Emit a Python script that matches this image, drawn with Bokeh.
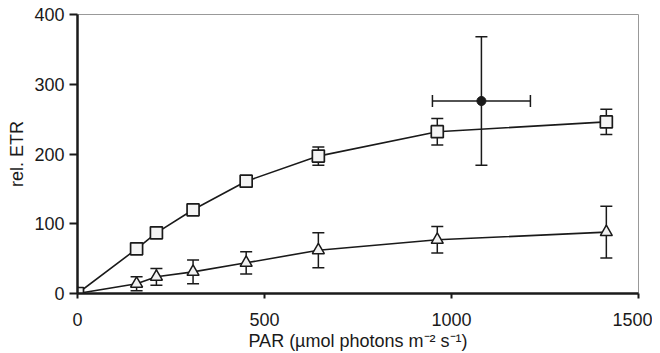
from bokeh.plotting import figure
from bokeh.models import ColumnDataSource, Whisker, TeeHead, Range1d, FixedTicker
from bokeh.embed import file_html
from bokeh.resources import INLINE

# Squares series
sq_x = [0, 158, 211, 309, 451, 644, 962, 1414]
sq_y = [0, 64, 87, 120, 161, 197, 232, 246]
sq_err = [0, 4, 4, 5, 5, 13, 19, 18]

# Triangles series
tr_x = [0, 158, 211, 309, 451, 644, 962, 1414]
tr_y = [0, 14, 24, 31, 44, 62, 77, 88]
tr_err = [0, 10, 12, 17, 16, 25, 19, 37]

# Filled circle point
ci_x = [1080]
ci_y = [276]
ci_xerr = [131]
ci_yerr = [92]

x_ticks = [0, 500, 1000, 1500]
y_ticks = [0, 100, 200, 300, 400]

FONT = "Liberation Sans"
INK = "#1a1a1a"

p = figure(width=652, height=353, output_backend="svg", toolbar_location=None,
           x_range=Range1d(0, 1500), y_range=Range1d(0, 400),
           min_border_left=77, min_border_top=14, min_border_right=14, min_border_bottom=59)
p.background_fill_color = "white"
p.border_fill_color = "white"
p.grid.visible = False
p.outline_line_color = "#999999"
p.outline_line_width = 1

for ax in (p.xaxis[0], p.yaxis[0]):
    ax.axis_line_color = INK
    ax.axis_line_width = 2.5
    ax.major_tick_line_color = INK
    ax.major_tick_line_width = 2
    ax.major_tick_in = 0
    ax.minor_tick_line_color = None
    ax.major_label_text_font = FONT
    ax.major_label_text_font_size = "18px"
    ax.major_label_text_color = INK
    ax.axis_label_text_font = FONT
    ax.axis_label_text_font_size = "18px"
    ax.axis_label_text_font_style = "normal"
    ax.axis_label_text_color = INK

p.xaxis.major_tick_out = 5
p.yaxis.major_tick_out = 8
p.xaxis.ticker = FixedTicker(ticks=x_ticks)
p.yaxis.ticker = FixedTicker(ticks=y_ticks)
p.xaxis.major_label_standoff = 14
p.yaxis.major_label_standoff = 5
p.xaxis.axis_label = "PAR (\u00b5mol photons m\u207b\u00b2 s\u207b\u00b9)"
p.yaxis.axis_label = "rel. ETR"
p.xaxis.axis_label_standoff = 2
p.yaxis.axis_label_standoff = 4

sq = ColumnDataSource(dict(x=sq_x, y=sq_y,
                           lo=[a - b for a, b in zip(sq_y, sq_err)],
                           hi=[a + b for a, b in zip(sq_y, sq_err)]))
tr = ColumnDataSource(dict(x=tr_x, y=tr_y,
                           lo=[a - b for a, b in zip(tr_y, tr_err)],
                           hi=[a + b for a, b in zip(tr_y, tr_err)]))
ci = ColumnDataSource(dict(x=ci_x, y=ci_y,
                           ylo=[a - b for a, b in zip(ci_y, ci_yerr)],
                           yhi=[a + b for a, b in zip(ci_y, ci_yerr)],
                           xlo=[a - b for a, b in zip(ci_x, ci_xerr)],
                           xhi=[a + b for a, b in zip(ci_x, ci_xerr)]))

p.line("x", "y", source=sq, line_color=INK, line_width=1.6)
p.line("x", "y", source=tr, line_color=INK, line_width=1.6)

def whisk(src, base, lo, hi, dim):
    w = Whisker(source=src, base=base, lower=lo, upper=hi, dimension=dim,
                line_color=INK, line_width=1.5,
                lower_head=TeeHead(size=12, line_color=INK, line_width=1.5),
                upper_head=TeeHead(size=12, line_color=INK, line_width=1.5))
    p.add_layout(w)

whisk(tr, "x", "lo", "hi", "height")
whisk(sq, "x", "lo", "hi", "height")
whisk(ci, "x", "ylo", "yhi", "height")
whisk(ci, "y", "xlo", "xhi", "width")

p.scatter("x", "y", source=tr, marker="triangle", size=12, fill_color="#f2f2f2",
          line_color=INK, line_width=1.5)
p.scatter("x", "y", source=sq, marker="square", size=12, fill_color="#f4f4f4",
          line_color=INK, line_width=1.7)
p.scatter("x", "y", source=ci, marker="circle", size=9, fill_color=INK,
          line_color=INK)

open("out.html", "w").write(file_html(p, INLINE))
